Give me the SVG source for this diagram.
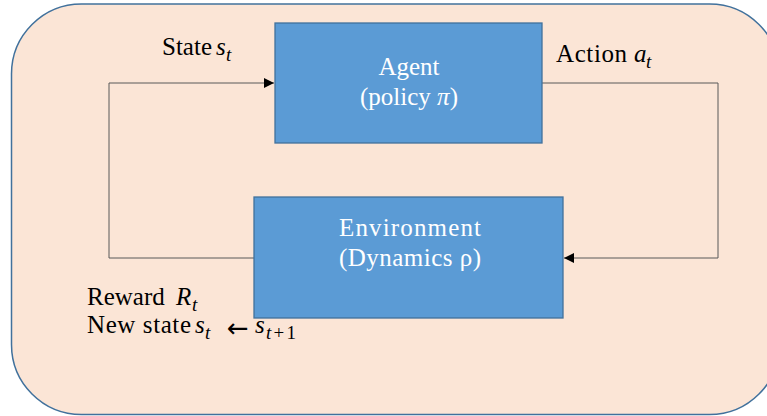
<svg xmlns="http://www.w3.org/2000/svg" width="767" height="416" viewBox="0 0 767 416">
  <style>
    .frame { fill: #FBE5D6; stroke: #41719C; stroke-width: 1.5; }
    .box { fill: #5B9BD5; stroke: #41719C; stroke-width: 1.3; }
    .wire { fill: none; stroke: #595959; stroke-width: 1; }
    .lbl { font-family: "Liberation Serif", "DejaVu Serif", serif; font-size: 25px; fill: #000; }
    .in { font-family: "Liberation Serif", "DejaVu Serif", serif; font-size: 25px; fill: #FFFFFF; text-anchor: middle; }
    .m { font-style: italic; }
    .sub { font-family: "Liberation Serif", "DejaVu Serif", serif; font-style: italic; font-size: 19px; fill: #000; }
    .sym { font-family: "DejaVu Sans", sans-serif; font-size: 26px; fill: #000; }
  </style>
  <defs>
    <marker id="head" viewBox="0 0 10 10" refX="10" refY="5" markerWidth="10" markerHeight="10" markerUnits="userSpaceOnUse" orient="auto">
      <path d="M0,0 L10,5 L0,10 Z" fill="#000"/>
    </marker>
  </defs>

  <!-- background panel -->
  <rect class="frame" x="11.5" y="4" width="768" height="410.5" rx="70" ry="70"/>

  <!-- feedback loop -->
  <g id="connectors">
    <path class="wire" d="M542,83 H718 V258 H564" marker-end="url(#head)"/>
    <path class="wire" d="M254,258 H109 V83 H274" marker-end="url(#head)"/>
  </g>

  <g id="agent">
    <rect class="box" x="275" y="23" width="267" height="120"/>
    <text class="in" x="409" y="75">Agent</text>
    <text class="in" x="409" y="105">(policy <tspan class="m">π</tspan>)</text>
  </g>

  <g id="environment">
    <rect class="box" x="254" y="197" width="309" height="121"/>
    <text class="in" x="410" y="236" textLength="142">Environment</text>
    <text class="in" x="410" y="266" textLength="142">(Dynamics ρ)</text>
  </g>

  <g id="state-label">
    <text class="lbl" x="162" y="55">State</text>
    <text class="lbl m" x="216" y="55">s</text>
    <text class="sub" x="226" y="61">t</text>
  </g>

  <g id="action-label">
    <text class="lbl" x="556" y="62" textLength="71">Action</text>
    <text class="lbl m" x="634" y="62">a</text>
    <text class="sub" x="646" y="68">t</text>
  </g>

  <g id="reward-label">
    <text class="lbl" x="87" y="305">Reward</text>
    <text class="lbl m" x="176" y="305">R</text>
    <text class="sub" x="192" y="311">t</text>
    <text class="lbl" x="87" y="333" textLength="104">New state</text>
    <text class="lbl m" x="195" y="333">s</text>
    <text class="sub" x="205" y="339">t</text>
    <text class="sym" x="227" y="337">←</text>
    <text class="lbl m" x="255" y="333">s</text>
    <text class="sub" x="266" y="339" textLength="30">t<tspan font-style="normal">+1</tspan></text>
  </g>
</svg>
